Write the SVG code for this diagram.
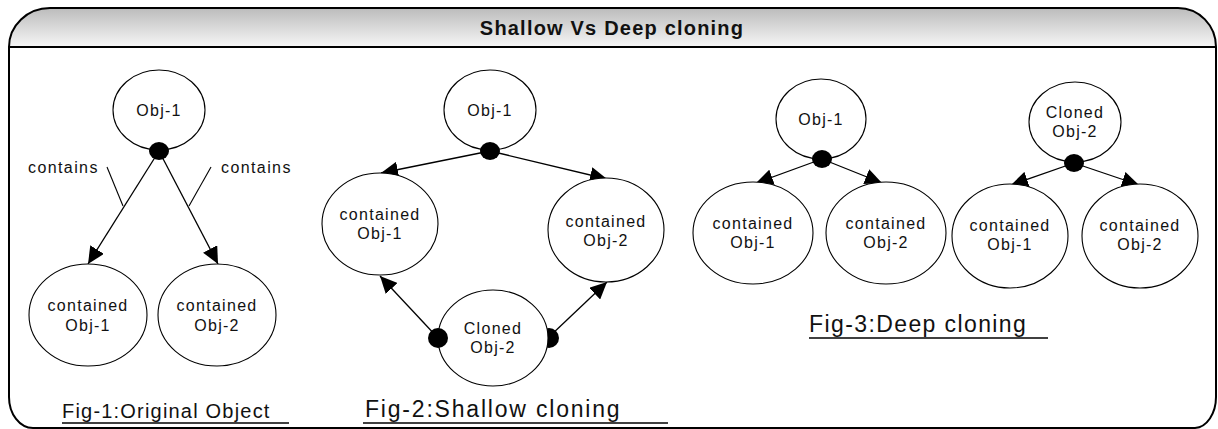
<svg xmlns="http://www.w3.org/2000/svg" width="1218" height="429" viewBox="0 0 1218 429">
<defs>
<linearGradient id="hdr" x1="0" y1="0" x2="0" y2="1">
<stop offset="0" stop-color="#bcbcbc"/>
<stop offset="1" stop-color="#f6f6f6"/>
</linearGradient>
<marker id="arr" markerUnits="userSpaceOnUse" markerWidth="18" markerHeight="16" refX="17" refY="8" orient="auto">
<path d="M0,0 L17,8 L0,16 Z" fill="#000"/>
</marker>
<style>
.node ellipse{fill:#fff;stroke:#000;stroke-width:1.1}
.node ellipse.dot{fill:#000;stroke:none}
.t{font-family:"Liberation Sans",Arial,sans-serif;font-size:16px;letter-spacing:1.3px;fill:#111;text-anchor:middle}
.lbl{font-family:"Liberation Sans",Arial,sans-serif;font-size:16px;letter-spacing:1.4px;fill:#111}
.cap{font-family:"Liberation Sans",Arial,sans-serif;fill:#111}
.edge{stroke:#000;stroke-width:1.3;fill:none;marker-end:url(#arr)}
.lead{stroke:#000;stroke-width:1.1;fill:none}
.uline{stroke:#000;stroke-width:1.5}
</style>
</defs>

<g id="frame">
<path d="M9,47 A41,39 0 0 1 50,8 L1178,8 A38,39 0 0 1 1216,47 Z" fill="url(#hdr)"/>
<path d="M9,47 A41,39 0 0 1 50,8 L1178,8 A38,39 0 0 1 1216,47 L1216,397 A22,31 0 0 1 1195,428 L33,428 A24,31 0 0 1 9,397 Z" fill="none" stroke="#000" stroke-width="2"/>
<line x1="9" y1="47" x2="1216" y2="47" stroke="#000" stroke-width="2"/>
<text x="612" y="35" class="cap" font-size="20" font-weight="bold" letter-spacing="1.2" text-anchor="middle">Shallow Vs Deep cloning</text>
</g>

<g id="connectors">
<line class="edge" x1="159" y1="151" x2="88" y2="264"/>
<line class="edge" x1="159" y1="151" x2="218" y2="264"/>
<line class="lead" x1="107" y1="167" x2="123" y2="206"/>
<line class="lead" x1="211" y1="167" x2="189" y2="206"/>
<line class="edge" x1="490" y1="151" x2="381" y2="173"/>
<line class="edge" x1="490" y1="151" x2="607" y2="179"/>
<line class="edge" x1="438" y1="338" x2="380" y2="276"/>
<line class="edge" x1="550" y1="336" x2="607" y2="282"/>
<line class="edge" x1="822" y1="159" x2="756" y2="183"/>
<line class="edge" x1="822" y1="159" x2="882" y2="183"/>
<line class="edge" x1="1074" y1="163" x2="1011" y2="185"/>
<line class="edge" x1="1074" y1="163" x2="1139" y2="185"/>
</g>

<g id="labels">
<text class="lbl" x="28" y="173">contains</text>
<text class="lbl" x="221" y="173">contains</text>
</g>

<g id="f1-obj1" class="node">
<ellipse cx="159" cy="110" rx="46" ry="40"/>
<text class="t" x="159" y="116">Obj-1</text>
<ellipse class="dot" cx="159" cy="151" rx="10" ry="9"/>
</g>
<g id="f1-c1" class="node">
<ellipse cx="88" cy="315" rx="59" ry="51"/>
<text class="t" x="88" y="311">contained</text>
<text class="t" x="88" y="331">Obj-1</text>
</g>
<g id="f1-c2" class="node">
<ellipse cx="217" cy="315" rx="59" ry="51"/>
<text class="t" x="217" y="311">contained</text>
<text class="t" x="217" y="331">Obj-2</text>
</g>
<g id="fig1-caption">
<text class="cap" x="62" y="418" font-size="20" letter-spacing="1.2">Fig-1:Original Object</text>
<line class="uline" x1="62" y1="423" x2="289" y2="423"/>
</g>

<g id="f2-obj1" class="node">
<ellipse cx="490" cy="110" rx="46" ry="40"/>
<text class="t" x="490" y="116">Obj-1</text>
<ellipse class="dot" cx="490" cy="151" rx="10" ry="9"/>
</g>
<g id="f2-c1" class="node">
<ellipse cx="380" cy="224" rx="58" ry="51"/>
<text class="t" x="380" y="220">contained</text>
<text class="t" x="380" y="239">Obj-1</text>
</g>
<g id="f2-c2" class="node">
<ellipse cx="606" cy="230" rx="58" ry="52"/>
<text class="t" x="606" y="227">contained</text>
<text class="t" x="606" y="246">Obj-2</text>
</g>
<g id="f2-clone" class="node">
<ellipse class="dot" cx="549" cy="338" rx="10" ry="10"/>
<ellipse cx="493" cy="338" rx="55" ry="48"/>
<text class="t" x="493" y="334">Cloned</text>
<text class="t" x="493" y="353">Obj-2</text>
<ellipse class="dot" cx="438" cy="338" rx="10" ry="10"/>
</g>
<g id="fig2-caption">
<text class="cap" x="365" y="417" font-size="23" letter-spacing="1.8">Fig-2:Shallow cloning</text>
<line class="uline" x1="363" y1="423" x2="668" y2="423"/>
</g>

<g id="f3-obj1" class="node">
<ellipse cx="821" cy="119" rx="45" ry="40"/>
<text class="t" x="821" y="125">Obj-1</text>
<ellipse class="dot" cx="822" cy="159" rx="10" ry="9"/>
</g>
<g id="f3-c1" class="node">
<ellipse cx="753" cy="233" rx="60" ry="51"/>
<text class="t" x="753" y="229">contained</text>
<text class="t" x="753" y="248">Obj-1</text>
</g>
<g id="f3-c2" class="node">
<ellipse cx="886" cy="233" rx="60" ry="51"/>
<text class="t" x="886" y="229">contained</text>
<text class="t" x="886" y="248">Obj-2</text>
</g>
<g id="f3-clone" class="node">
<ellipse cx="1075" cy="122" rx="46" ry="40"/>
<text class="t" x="1075" y="118">Cloned</text>
<text class="t" x="1075" y="137">Obj-2</text>
<ellipse class="dot" cx="1074" cy="163" rx="10" ry="9"/>
</g>
<g id="f3-c3" class="node">
<ellipse cx="1010" cy="236" rx="58" ry="52"/>
<text class="t" x="1010" y="231">contained</text>
<text class="t" x="1010" y="250">Obj-1</text>
</g>
<g id="f3-c4" class="node">
<ellipse cx="1140" cy="236" rx="58" ry="52"/>
<text class="t" x="1140" y="231">contained</text>
<text class="t" x="1140" y="250">Obj-2</text>
</g>
<g id="fig3-caption">
<text class="cap" x="809" y="332" font-size="23" letter-spacing="1.4">Fig-3:Deep cloning</text>
<line class="uline" x1="809" y1="338" x2="1048" y2="338"/>
</g>
</svg>
